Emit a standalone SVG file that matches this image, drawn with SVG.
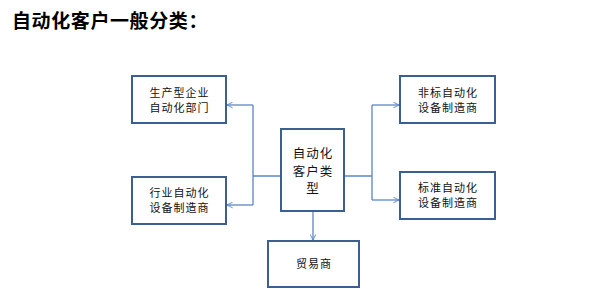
<svg xmlns="http://www.w3.org/2000/svg" width="600" height="289" viewBox="0 0 600 289">
<style>
.box{fill:#fff;stroke:#3c5f92;stroke-width:2}
.t{font-family:"Noto Sans CJK SC","Noto Sans",sans-serif;font-size:11px;fill:#111;text-anchor:middle;letter-spacing:1px}
.tc{font-family:"Noto Sans CJK SC","Noto Sans",sans-serif;font-size:12.5px;fill:#111;text-anchor:middle;letter-spacing:1px}
.c{fill:none;stroke:#5b86c6;stroke-width:1.3}
.title{font-family:"Noto Sans CJK SC","Liberation Sans",sans-serif;font-size:19px;font-weight:bold;fill:#000;letter-spacing:0.6px}
</style>
<defs>
<marker id="a" viewBox="0 0 10 10" refX="9" refY="5" markerWidth="7" markerHeight="7" markerUnits="userSpaceOnUse" orient="auto">
<path d="M1,1 L9,5 L1,9" fill="none" stroke="#5b86c6" stroke-width="1.3"/>
</marker>
</defs>
<rect width="600" height="289" fill="#fff"/>
<text class="title" x="12" y="28">自动化客户一般分类：</text>
<g id="connectors">
<path class="c" d="M281,176 H253 M253,105 V205"/>
<path class="c" d="M253,105 H227" marker-end="url(#a)"/>
<path class="c" d="M253,205 H227" marker-end="url(#a)"/>
<path class="c" d="M345,176 H372 M372,105 V200"/>
<path class="c" d="M372,105 H399" marker-end="url(#a)"/>
<path class="c" d="M372,200 H399" marker-end="url(#a)"/>
<path class="c" d="M313,212 V240" marker-end="url(#a)"/>
</g>
<g id="n1">
<rect class="box" x="132" y="76" width="94" height="47"/>
<text class="t" x="179.5" y="96.5">生产型企业</text>
<text class="t" x="179.5" y="112">自动化部门</text>
</g>
<g id="n2">
<rect class="box" x="132" y="177" width="94" height="47"/>
<text class="t" x="179.5" y="196.5">行业自动化</text>
<text class="t" x="179.5" y="212">设备制造商</text>
</g>
<g id="center">
<rect class="box" x="281" y="129" width="63" height="82"/>
<text class="tc" x="313" y="158">自动化</text>
<text class="tc" x="313" y="175.5">客户类</text>
<text class="tc" x="313" y="193">型</text>
</g>
<g id="n3">
<rect class="box" x="400" y="76" width="95" height="47"/>
<text class="t" x="448" y="96.5">非标自动化</text>
<text class="t" x="448" y="112">设备制造商</text>
</g>
<g id="n4">
<rect class="box" x="400" y="172" width="95" height="47"/>
<text class="t" x="448" y="191.5">标准自动化</text>
<text class="t" x="448" y="207">设备制造商</text>
</g>
<g id="n5">
<rect class="box" x="268" y="241" width="91" height="46"/>
<text class="t" x="314" y="268">贸易商</text>
</g>
</svg>
